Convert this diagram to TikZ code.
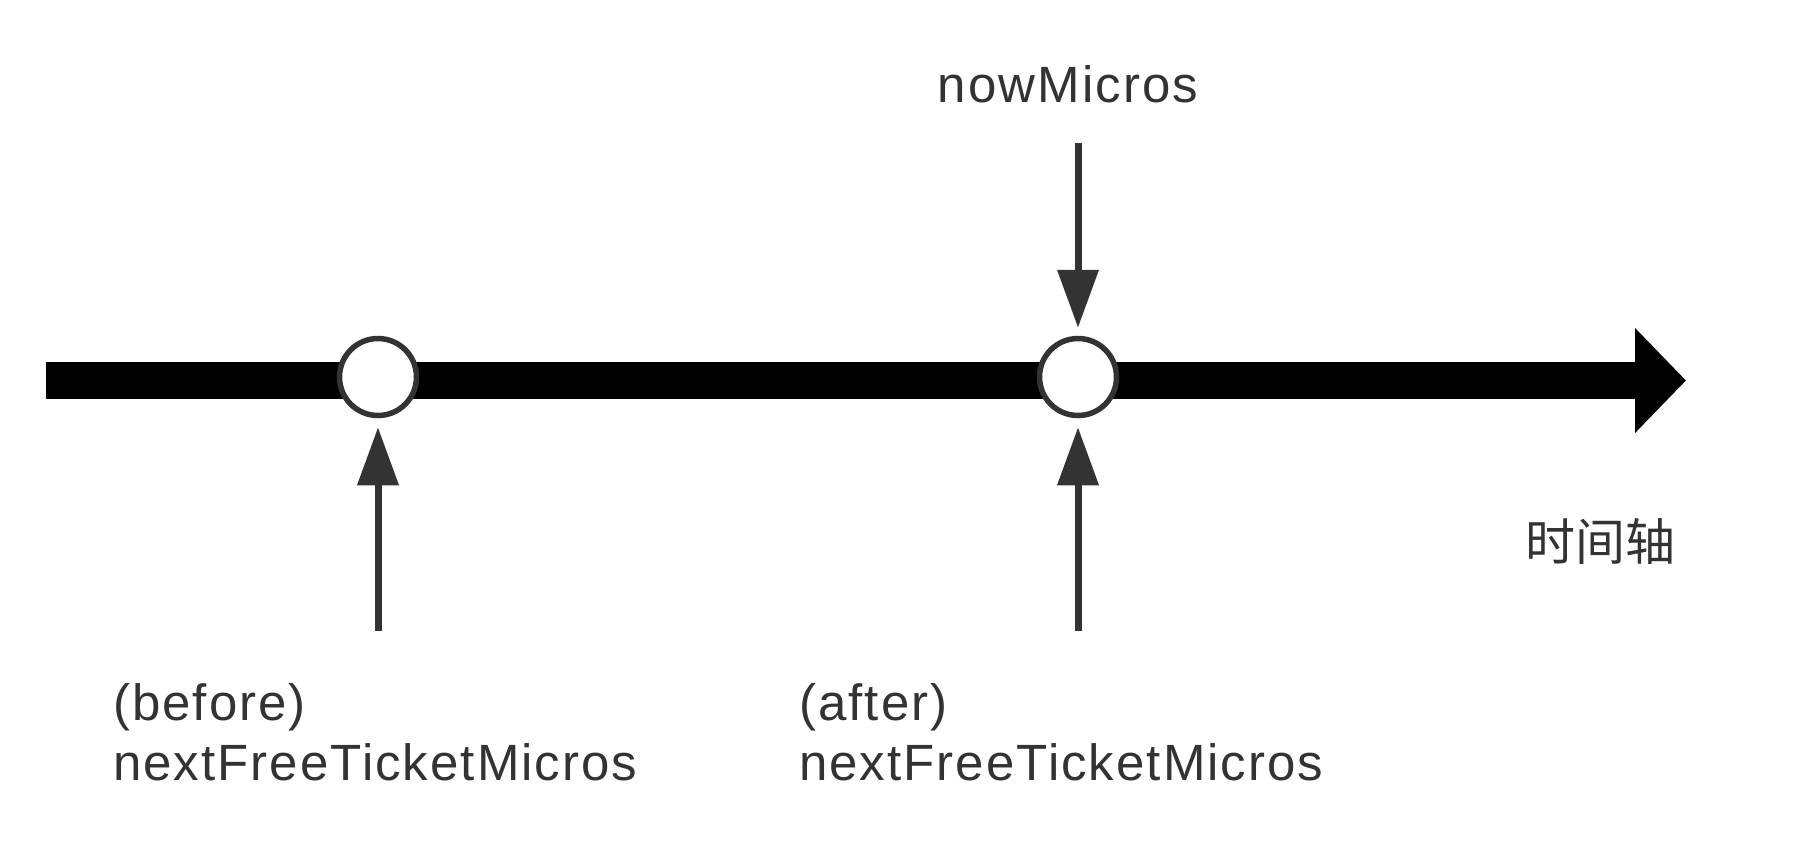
\documentclass[tikz,border=0pt]{standalone}
\usepackage{fontspec}
\setmainfont[LetterSpace=4]{Liberation Sans}
\newfontfamily\cjk{Noto Sans CJK SC}
\usetikzlibrary{arrows.meta}
\definecolor{ink}{HTML}{333333}
\begin{document}
\begin{tikzpicture}[x=1pt,y=-1pt,
  lbl/.style={inner sep=0pt,text=ink,font=\fontsize{51}{61}\selectfont},
  dotnode/.style={circle,draw=ink,line width=5.5pt,fill=white,minimum size=77pt,inner sep=0pt},
  ptr/.style={draw=ink,line width=7pt,-{Triangle[length=58pt,width=40pt]}},
  axis/.style={draw=black,line width=37pt,-{Triangle[length=51pt,width=102pt]}}]
\fill[white] (0,0) rectangle (1798,860);
\useasboundingbox (0,0) rectangle (1798,860);
\coordinate (L) at (46,380.5);
\coordinate (R) at (1686,380.5);
\draw[axis] (L) -- (R);
\node[dotnode] (c1) at (378,377) {};
\node[dotnode] (c2) at (1078,377) {};
\coordinate (top2) at (1078,143);
\coordinate (bot1) at (378,631);
\coordinate (bot2) at (1078,631);
\draw[ptr,shorten >=8pt] (top2) -- (c2.north);
\draw[ptr,shorten >=9pt] (bot1) -- (c1.south);
\draw[ptr,shorten >=9pt] (bot2) -- (c2.south);
\node[lbl,anchor=base] (now) at (1068,102) {nowMicros};
\node[lbl,anchor=base west] (b1) at (113,720) {(before)};
\node[lbl,anchor=base west] (b2) at (113,780) {nextFreeTicketMicros};
\node[lbl,anchor=base west] (a1) at (799,720) {(after)};
\node[lbl,anchor=base west] (a2) at (799,780) {nextFreeTicketMicros};
\node[inner sep=0pt,text=ink,font=\cjk\fontsize{50}{60}\selectfont] (tl) at (1600,541) {时间轴};
\end{tikzpicture}
\end{document}
